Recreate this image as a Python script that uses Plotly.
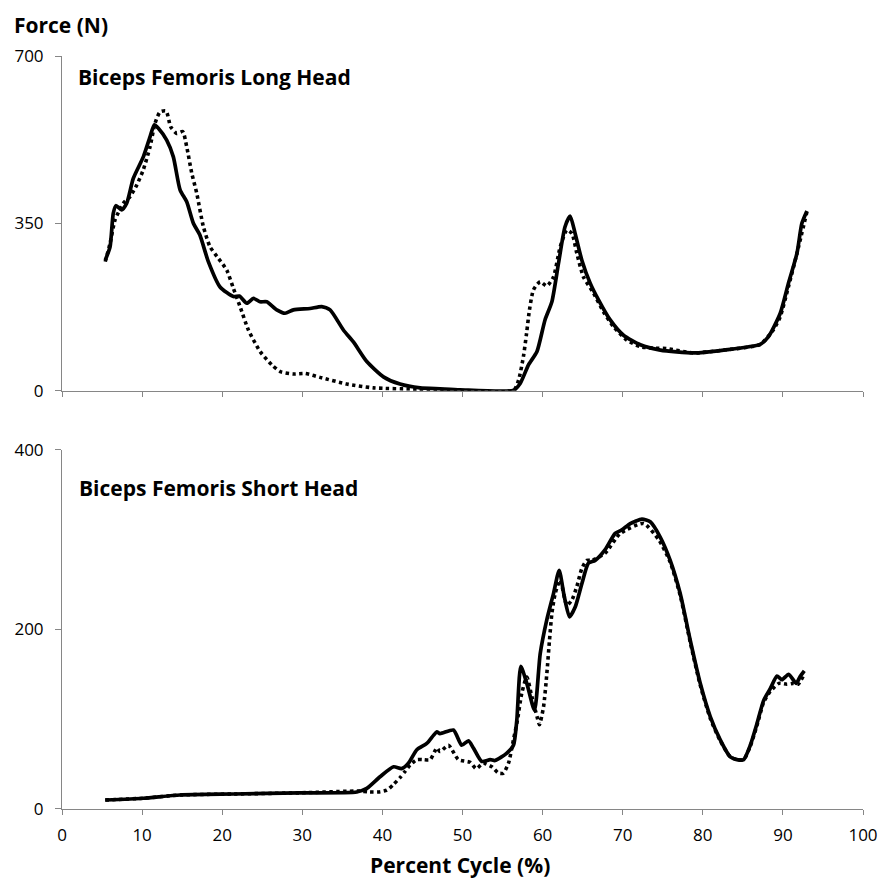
import plotly.graph_objects as go

# ---- Top panel: Biceps Femoris Long Head ----
lh_solid_x = [5.4, 6.0, 6.4, 6.74, 7.45, 8.08, 8.9, 10.15, 10.99, 11.53, 12.03, 13.07, 13.9, 14.74,
              15.57, 16.4, 17.2, 18.27, 19.73, 21.4, 22.15, 23.07, 23.9, 24.73, 25.56, 26.81, 27.85,
              28.89, 30.97, 32.43, 33.47, 35.13, 36.38, 38.05, 40.13, 42.2, 44.7, 47.2, 49.7, 56.4,
              57.2, 58.24, 59.3, 60.3, 61.16, 61.98, 62.8, 63.44, 64.06, 64.9, 65.94, 66.98, 68.44,
              70.1, 72.2, 74.7, 78.84, 82.6, 87.17, 88.2, 89.67, 90.7, 91.75, 92.37, 93.0]
lh_solid_y = [273, 301, 371, 387, 378, 392, 444, 489, 531, 556, 549, 524, 489, 420,
              395, 350, 326, 270, 217, 197, 198, 183, 193, 186, 186, 169, 162,
              169, 172, 176, 169, 127, 102, 61, 29, 14, 6, 4, 2, 1,
              15, 54, 82, 148, 186, 266, 343, 365, 329, 273, 225, 190, 148,
              116, 96, 85, 79, 85, 97, 113, 162, 225, 287, 350, 376]

lh_dot_x = [5.4, 6.0, 6.62, 7.66, 8.5, 9.33, 10.15, 10.99, 11.61, 12.24, 12.99, 13.57, 14.32, 15.07,
            15.57, 16.2, 16.82, 17.65, 18.48, 19.52, 20.57, 21.4, 22.23, 23.27, 24.73, 26.2, 27.24,
            28.89, 30.35, 32.43, 35.55, 38.88, 44.3, 47.2, 56.4, 57.0, 57.6, 58.0, 58.36, 58.86,
            59.7, 60.53, 61.36, 62.2, 63.03, 63.66, 64.28, 65.1, 66.36, 67.6, 68.85, 70.5, 72.2,
            73.85, 75.5, 78.84, 82.6, 87.17, 88.8, 89.67, 90.7, 91.75, 93.0]
lh_dot_y = [270, 308, 357, 392, 406, 430, 462, 510, 559, 583, 585, 552, 538, 542,
            510, 455, 413, 343, 301, 277, 252, 214, 176, 127, 82, 54, 40,
            35, 36, 27, 14, 6, 3, 1, 1, 22, 71, 120, 169, 211,
            228, 219, 238, 301, 336, 329, 287, 238, 204, 165, 134, 106, 92,
            89, 88, 79, 85, 97, 127, 155, 218, 287, 374]

# ---- Bottom panel: Biceps Femoris Short Head ----
sh_solid_x = [5.4, 10.15, 14.74, 21.4, 29.7, 36.8, 38.05, 39.71, 41.4, 42.4, 43.25, 44.3, 45.54,
              46.37, 46.8, 47.2, 48.87, 49.9, 50.74, 51.36, 52.4, 53.45, 54.07, 55.5, 56.36, 56.78,
              57.28, 58.03, 58.99, 59.7, 60.53, 61.36, 62.07, 62.7, 63.36, 64.07, 64.9, 65.73, 66.56,
              67.81, 69.06, 69.9, 70.94, 72.4, 73.44, 74.68, 75.93, 77.18, 78.43, 79.68, 80.93,
              82.18, 83.43, 84.26, 85.1, 85.93, 86.76, 87.6, 88.42, 89.26, 89.88, 90.72, 91.67,
              92.17, 92.67]
sh_solid_y = [10, 12, 15.6, 16.7, 18, 19, 23, 36, 47, 45, 51, 66, 73,
              82, 86, 84, 88, 71, 76, 68, 53, 55, 54, 62, 71, 99,
              159, 140, 110, 173, 211, 240, 266, 237, 214, 225, 251, 274, 277,
              289, 307, 311, 318, 323, 320, 303, 277, 240, 188, 140, 103,
              77, 58, 55, 55, 71, 95, 121, 134, 148, 144, 150, 140,
              148, 154]

sh_dot_x = [5.4, 10.15, 14.74, 21.4, 29.7, 37.2, 38.3, 39.5, 40.55, 41.4, 42.2, 42.84, 43.46, 44.3,
            45.1, 45.96, 46.8, 47.2, 48.25, 49.49, 50.95, 51.7, 52.6, 53.66, 54.49, 55.1, 55.74,
            56.36, 56.86, 57.4, 58.03, 58.66, 59.3, 59.6, 60.12, 60.53, 60.86, 61.16, 61.57, 62.2,
            63.03, 63.66, 64.28, 64.9, 65.53, 66.15, 67.81, 69.7, 72.6, 74.5, 75.93, 77.18, 78.43,
            79.68, 80.93, 82.18, 83.43, 84.26, 85.1, 85.93, 86.76, 87.6, 88.42, 89.5, 90.5,
            91.3, 91.9, 92.6]
sh_dot_y = [10, 12, 15.6, 16.7, 18, 20, 19, 19, 21, 27.5, 35, 42, 49, 55,
            55, 55, 68, 64, 71, 55, 52, 45, 51, 47, 40, 40, 51,
            77, 99, 129, 147, 125, 103, 94, 114, 151, 188, 218, 240, 255,
            227, 233, 248, 268, 277, 277, 285, 307, 318, 300, 275, 238, 186,
            138, 101, 76, 58, 55, 55, 70, 93, 119, 131, 140, 139,
            140, 139, 149]

x_ticks = [0, 10, 20, 30, 40, 50, 60, 70, 80, 90, 100]
top_y_ticks = [0, 350, 700]
bot_y_ticks = [0, 200, 400]

FONT = "Open Sans"
AXIS_COLOR = "#868686"

fig = go.Figure()
solid = dict(color="black", width=3.7, shape="spline", smoothing=0.6)
dotted = dict(color="black", width=3.6, dash="3.4px,3.4px", shape="spline", smoothing=0.6)

fig.add_trace(go.Scatter(x=lh_dot_x, y=lh_dot_y, mode="lines", line=dotted, xaxis="x", yaxis="y"))
fig.add_trace(go.Scatter(x=lh_solid_x, y=lh_solid_y, mode="lines", line=solid, xaxis="x", yaxis="y"))
fig.add_trace(go.Scatter(x=sh_dot_x, y=sh_dot_y, mode="lines", line=dotted, xaxis="x2", yaxis="y2"))
fig.add_trace(go.Scatter(x=sh_solid_x, y=sh_solid_y, mode="lines", line=solid, xaxis="x2", yaxis="y2"))

axis_common = dict(showgrid=False, zeroline=False, showline=True, linecolor=AXIS_COLOR, linewidth=1,
                   ticks="outside", tickcolor=AXIS_COLOR, tickwidth=1, automargin=False,
                   tickfont=dict(family=FONT, size=17, color="black"))
x_common = dict(ticklen=5, ticklabelstandoff=6, **axis_common)
y_common = dict(ticklen=6, ticklabelstandoff=8, **axis_common)

title_font = dict(family=FONT, size=21, color="black")

fig.update_layout(
    width=881, height=882, autosize=False,
    margin=dict(l=62, r=18, t=56, b=73),
    plot_bgcolor="white", paper_bgcolor="white",
    showlegend=False,
    xaxis=dict(domain=[0, 1], anchor="y", range=[0, 100], tickvals=x_ticks, showticklabels=False,
               **x_common),
    yaxis=dict(domain=[0.5555, 1], anchor="x", range=[0, 700], tickvals=top_y_ticks, **y_common),
    xaxis2=dict(domain=[0, 1], anchor="y2", range=[0, 100], tickvals=x_ticks, **x_common),
    yaxis2=dict(domain=[0, 0.4768], anchor="x2", range=[0, 400], tickvals=bot_y_ticks, **y_common),
    annotations=[
        dict(text="<b>Force (N)</b>", xref="paper", yref="paper", x=-0.0624, y=1.041,
             xanchor="left", yanchor="middle", showarrow=False, font=title_font),
        dict(text="<b>Biceps Femoris Long Head</b>", xref="paper", yref="paper", x=0.0175, y=0.972,
             xanchor="left", yanchor="middle", showarrow=False, font=title_font),
        dict(text="<b>Biceps Femoris Short Head</b>", xref="paper", yref="paper", x=0.0187, y=0.4263,
             xanchor="left", yanchor="middle", showarrow=False, font=title_font),
        dict(text="<b>Percent Cycle (%)</b>", xref="paper", yref="paper", x=0.497, y=-0.0744,
             xanchor="center", yanchor="middle", showarrow=False, font=title_font),
    ],
)

fig.write_html(
    "out.html",
    config={"responsive": False, "displayModeBar": False},
    post_script="document.body.style.margin='0';document.documentElement.style.overflow='hidden';document.body.style.overflow='hidden';",
)
